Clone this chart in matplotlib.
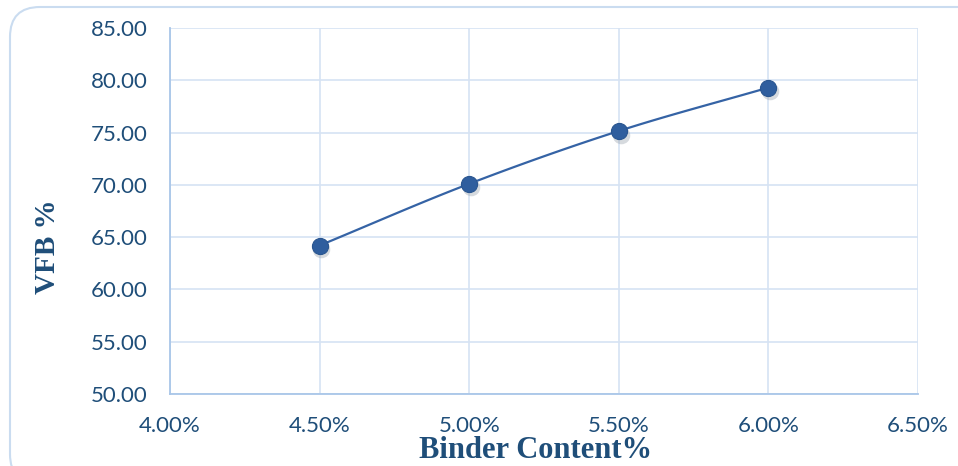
import numpy as np
import matplotlib
matplotlib.use("Agg")
import matplotlib.pyplot as plt
from matplotlib.patches import FancyBboxPatch
from matplotlib.ticker import FuncFormatter

binder_content = [4.5, 5.0, 5.5, 6.0]
vfb = [64.2, 70.1, 75.15, 79.3]

x_ticks = [4.0, 4.5, 5.0, 5.5, 6.0, 6.5]
y_ticks = [50, 55, 60, 65, 70, 75, 80, 85]

text_color = "#1F4E79"
line_color = "#3563A5"
marker_color = "#2F5E9E"
grid_color = "#D6E3F3"
spine_color = "#A9C6E8"


def smooth_curve(xs, ys, n=40, tension=0.5):
    """Cardinal spline through the given points (Excel-style smoothed line)."""
    xs = np.asarray(xs, float)
    ys = np.asarray(ys, float)
    px = np.concatenate([[2 * xs[0] - xs[1]], xs, [2 * xs[-1] - xs[-2]]])
    py = np.concatenate([[2 * ys[0] - ys[1]], ys, [2 * ys[-1] - ys[-2]]])
    out_x, out_y = [], []
    t = np.linspace(0, 1, n)
    for i in range(1, len(px) - 2):
        m0x = tension * (px[i + 1] - px[i - 1])
        m1x = tension * (px[i + 2] - px[i])
        m0y = tension * (py[i + 1] - py[i - 1])
        m1y = tension * (py[i + 2] - py[i])
        h00 = 2 * t**3 - 3 * t**2 + 1
        h10 = t**3 - 2 * t**2 + t
        h01 = -2 * t**3 + 3 * t**2
        h11 = t**3 - t**2
        out_x.append(h00 * px[i] + h10 * m0x + h01 * px[i + 1] + h11 * m1x)
        out_y.append(h00 * py[i] + h10 * m0y + h01 * py[i + 1] + h11 * m1y)
    return np.concatenate(out_x), np.concatenate(out_y)


W, H = 958, 466
fig = plt.figure(figsize=(W / 100, H / 100), dpi=100)

# background layer in pixel units (origin bottom-left) for the rounded frame
bg = fig.add_axes([0, 0, 1, 1], zorder=-1)
bg.set_xlim(0, W)
bg.set_ylim(0, H)
bg.axis("off")
bg.add_patch(FancyBboxPatch((10, -18), 985, H - 7 + 18,
                            boxstyle="round,pad=0,rounding_size=30",
                            facecolor="none", edgecolor="#CADCF0",
                            linewidth=1.5, clip_on=False))

ax = fig.add_axes([170 / W, 1 - 394 / H, 748 / W, 366 / H])
ax.set_facecolor("none")

cx, cy = smooth_curve(binder_content, vfb)
ax.plot(cx, cy, color=line_color, linewidth=1.6, zorder=3)
# marker shadow
ax.scatter(np.array(binder_content) + 0.006, np.array(vfb) - 0.35, s=160,
           color="#9AA3AE", alpha=0.4, zorder=3.5, linewidths=0)
ax.scatter(binder_content, vfb, s=135, color=marker_color, zorder=4,
           edgecolors="#2A5690", linewidths=0.8)

ax.set_xlim(4.0, 6.5)
ax.set_ylim(50, 85)
ax.set_xticks(x_ticks)
ax.set_yticks(y_ticks)
ax.xaxis.set_major_formatter(FuncFormatter(lambda v, p: f"{v:.2f}%"))
ax.yaxis.set_major_formatter(FuncFormatter(lambda v, p: f"{v:.2f}"))
ax.grid(True, color=grid_color, linewidth=1.2)
ax.set_axisbelow(True)
for side in ["top", "right"]:
    ax.spines[side].set_visible(False)
for side in ["left", "bottom"]:
    ax.spines[side].set_color(spine_color)
    ax.spines[side].set_linewidth(1.3)
ax.tick_params(length=0, colors=text_color, labelsize=16)
for lab in ax.get_xticklabels() + ax.get_yticklabels():
    lab.set_fontfamily("Lato")
ax.tick_params(axis="y", pad=16)
ax.tick_params(axis="x", pad=16)

ax.set_xlabel("Binder Content%", fontfamily="Liberation Serif", fontweight="bold",
              fontsize=22, color=text_color, va="center", ha="center")
ax.xaxis.set_label_coords((536 - 170) / 748, -(450 - 394) / 366)
ax.set_ylabel("VFB %", fontfamily="Liberation Serif", fontweight="bold",
              fontsize=21, color=text_color, va="center", ha="center")
ax.yaxis.set_label_coords((48 - 170) / 748, 1 - (247 - 28) / 366)

fig.savefig("out.png", dpi=100)
